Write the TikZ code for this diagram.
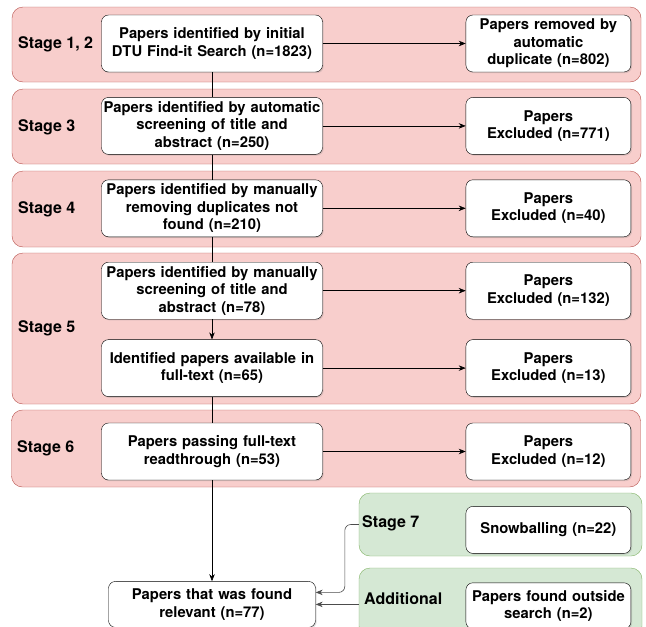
\documentclass[tikz,border=0pt]{standalone}
\usepackage{fontspec}
\setmainfont{TeX Gyre Heros}
\usepackage{tikz}
\usetikzlibrary {arrows.meta,
                 positioning,
                 shadows}
\definecolor{stagefill}{HTML}{F8CECC}
\definecolor{stageline}{HTML}{B85450}
\definecolor{extrafill}{HTML}{D5E8D4}
\definecolor{extraline}{HTML}{82B366}
\tikzset{
        base/.style={draw, align=center, fill=white, rounded corners=7pt,
                     inner sep=1pt, minimum height=57pt,
                     font=\bfseries\fontsize{14.8}{17.5}\selectfont,
                     drop shadow={shadow xshift=1.2pt, shadow yshift=-1.2pt,
                                  opacity=0.25}},
        paper/.style={base, text width=219pt},
        excl/.style={base, text width=163pt},
        result/.style={base, text width=205pt, minimum height=46pt},
        stagebox/.style={draw=stageline, fill=stagefill, rounded corners=11pt,
                         minimum width=629pt},
        extrabox/.style={draw=extraline, fill=extrafill, rounded corners=11pt,
                         minimum width=283pt},
        stagetext/.style={anchor=west, inner sep=0pt,
                          font=\bfseries\fontsize{16}{18}\selectfont},
        myarrow/.style={-{Stealth[length=7pt, width=5.5pt]}, line width=0.6pt},
 }
\begin{document}
\begin{tikzpicture}[x=1pt, y=-1pt]
    \useasboundingbox (0,0) rectangle (646,627);
    % stage backgrounds
    \node[stagebox, minimum height=75pt] (s12) at (326.5,44.5) {};
    \node[stagebox, minimum height=75pt] (s3) at (326.5,126.5) {};
    \node[stagebox, minimum height=76pt] (s4) at (326.5,209) {};
    \node[stagebox, minimum height=151pt] (s5) at (326.5,328.5) {};
    \node[stagebox, minimum height=77pt] (s6) at (326,448.5) {};
    \node[extrabox, minimum height=63pt] (g7) at (500.5,524.5) {};
    \node[extrabox, minimum height=69pt] (gadd) at (500.5,602.5) {};

    \node[stagetext] (t12) at (18,44) {Stage 1, 2};
    \node[stagetext] (t3) at (18,127) {Stage 3};
    \node[stagetext] (t4) at (18,209) {Stage 4};
    \node[stagetext] (t5) at (18,328) {Stage 5};
    \node[stagetext] (t6) at (17,448) {Stage 6};
    \node[stagetext] (t7) at (362,523) {Stage 7};
    \node[stagetext] (tadd) at (364,599) {Additional};

    % left column
    \node[paper] (p1) at (212,43.5) {Papers identified by initial\\DTU Find-it Search (n=1823)};
    \node[paper, below=25pt of p1] (p2) {Papers identified by automatic\\screening of title and\\abstract (n=250)};
    \node[paper, below=25pt of p2] (p3) {Papers identified by manually\\removing duplicates not\\found (n=210)};
    \node[paper, below=25pt of p3] (p4) {Papers identified by manually\\screening of title and\\abstract (n=78)};
    \node[paper, below=20pt of p4] (p5) {Identified papers available in\\full-text (n=65)};
    \node[paper, below=26pt of p5] (p6) {Papers passing full-text\\readthrough (n=53)};
    \node[result, below=101pt of p6] (rel) {Papers that was found\\relevant (n=77)};

    % right column
    \node[excl, right=143pt of p1] (e1) {Papers removed by\\automatic\\duplicate (n=802)};
    \node[excl, right=143pt of p2] (e2) {Papers\\Excluded (n=771)};
    \node[excl, right=143pt of p3] (e3) {Papers\\Excluded (n=40)};
    \node[excl, right=143pt of p4] (e4) {Papers\\Excluded (n=132)};
    \node[excl, right=143pt of p5] (e5) {Papers\\Excluded (n=13)};
    \node[excl, right=143pt of p6] (e6) {Papers\\Excluded (n=12)};
    \node[excl, below=26pt of e6, minimum height=47pt] (snow) {Snowballing (n=22)};
    \node[excl, below=29pt of snow, minimum height=46pt] (outs) {Papers found outside\\search (n=2)};

    \draw[line width=0.6pt] (p1) -- (p2);
    \draw[line width=0.6pt] (p2) -- (p3);
    \draw[line width=0.6pt] (p3) -- (p4);
    \draw[myarrow] (p4) -- (p5);
    \draw[line width=0.6pt] (p5) -- (p6);
    \draw[myarrow] (p6) -- (rel);

    \draw[myarrow] (p1) -- (e1);
    \draw[myarrow] (p2) -- (e2);
    \draw[myarrow] (p3) -- (e3);
    \draw[myarrow] (p4) -- (e4);
    \draw[myarrow] (p5) -- (e5);
    \draw[myarrow] (p6) -- (e6);

    \draw[myarrow, black!70, rounded corners=6pt] (g7.west) -- ++(-14,0) |- ([yshift=12pt]rel.east);
    \draw[myarrow, black!70] (gadd.west |- rel.east) -- (rel.east);
\end{tikzpicture}
\end{document}
